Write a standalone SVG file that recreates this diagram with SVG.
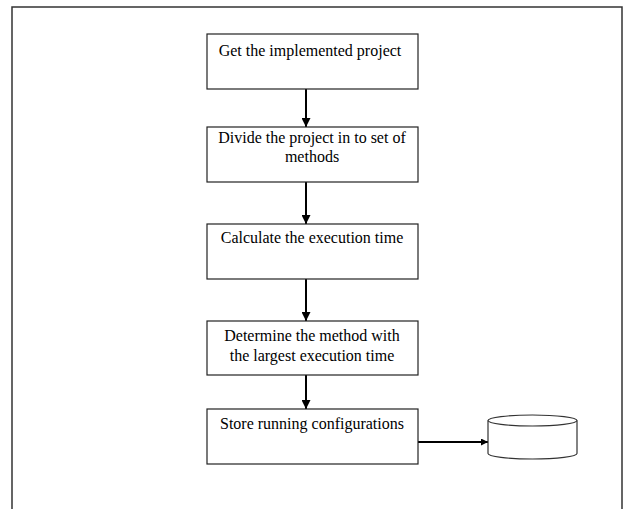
<svg xmlns="http://www.w3.org/2000/svg" width="632" height="509" viewBox="0 0 632 509">
<style>
.frame{fill:none;stroke:#333;stroke-width:1.5}
.box{fill:#fff;stroke:#222;stroke-width:1.2}
.t{font-family:"Liberation Serif","Times New Roman",serif;font-size:16px;fill:#000;text-anchor:middle}
.c{stroke:#000;stroke-width:2;fill:none}
.cs{fill:#fff;stroke:#333;stroke-width:1.2}
</style>
<defs>
<marker id="ah" viewBox="0 0 10 10" refX="10" refY="5" markerWidth="4.5" markerHeight="4.5" orient="auto" markerUnits="strokeWidth">
<path d="M0,0 L10,5 L0,10 z" fill="#000"/>
</marker>
<marker id="ah2" viewBox="0 0 10 10" refX="10" refY="5" markerWidth="3.5" markerHeight="3.5" orient="auto" markerUnits="strokeWidth">
<path d="M0,0 L10,5 L0,10 z" fill="#000"/>
</marker>
</defs>
<rect width="632" height="509" fill="#fff"/>
<path class="frame" d="M12,512 V7 H622 V512"/>
<g id="connectors">
<line class="c" x1="306" y1="89" x2="306" y2="127" marker-end="url(#ah)"/>
<line class="c" x1="306" y1="182" x2="306" y2="224" marker-end="url(#ah)"/>
<line class="c" x1="306" y1="279" x2="306" y2="321" marker-end="url(#ah)"/>
<line class="c" x1="306" y1="375" x2="306" y2="409" marker-end="url(#ah)"/>
<line class="c" x1="418" y1="442" x2="488" y2="442" stroke-width="3" marker-end="url(#ah2)"/>
</g>
<g id="n1">
<rect class="box" x="207" y="34" width="211" height="55"/>
<text class="t" x="310" y="56">Get the implemented project</text>
</g>
<g id="n2">
<rect class="box" x="207" y="127" width="211" height="55"/>
<text class="t" x="312" y="143">Divide the project in to set of</text>
<text class="t" x="312" y="162">methods</text>
</g>
<g id="n3">
<rect class="box" x="207" y="224" width="211" height="55"/>
<text class="t" x="312" y="243">Calculate the execution time</text>
</g>
<g id="n4">
<rect class="box" x="207" y="321" width="211" height="54"/>
<text class="t" x="312" y="341">Determine the method with</text>
<text class="t" x="312" y="361">the largest execution time</text>
</g>
<g id="n5">
<rect class="box" x="207" y="409" width="211" height="55"/>
<text class="t" x="312" y="429">Store running configurations</text>
</g>
<g id="db">
<path class="cs" d="M488,420.5 V453.5 A44.5,5.5 0 0 0 577,453.5 V420.5"/>
<ellipse class="cs" cx="532.5" cy="420.5" rx="44.5" ry="5.5"/>
</g>
</svg>
